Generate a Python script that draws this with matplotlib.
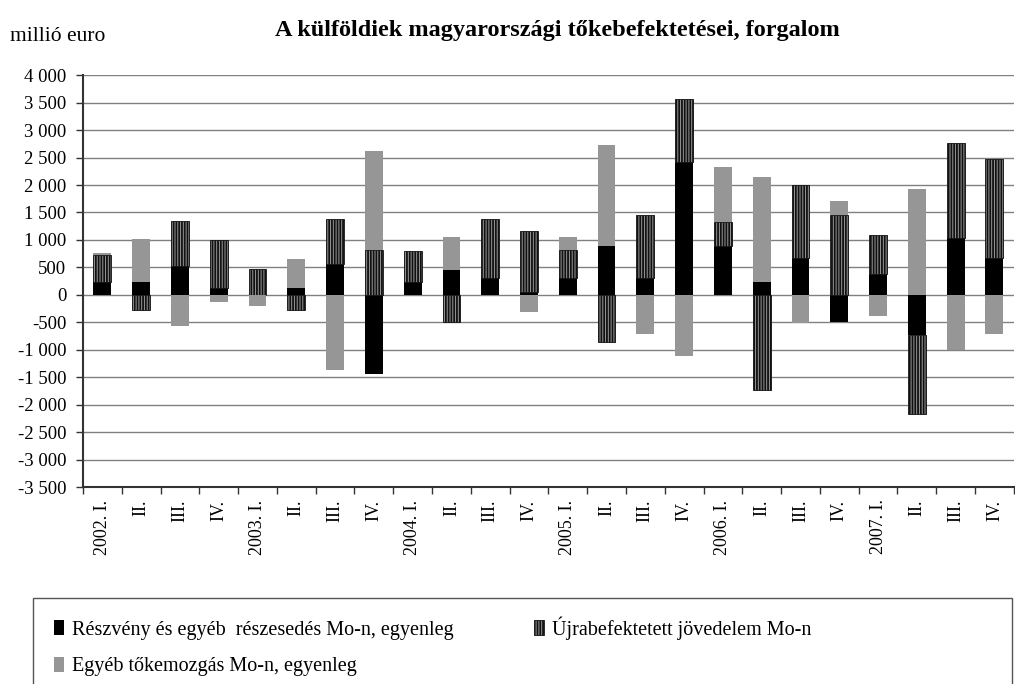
import numpy as np
import matplotlib.pyplot as plt
import matplotlib as mpl
from matplotlib.patches import Patch, Rectangle
from matplotlib.ticker import FuncFormatter

plt.rcParams["font.family"] = ["Liberation Serif", "DejaVu Serif"]
plt.rcParams["hatch.linewidth"] = 1.3

quarters = [
    "2002. I.", "II.", "III.", "IV.",
    "2003. I.", "II.", "III.", "IV.",
    "2004. I.", "II.", "III.", "IV.",
    "2005. I.", "II.", "III.", "IV.",
    "2006. I.", "II.", "III.", "IV.",
    "2007. I.", "II.", "III.", "IV.",
]
# Részvény és egyéb részesedés
equity = [235, 235, 525, 125, 0, 125, 560, -1440,
          235, 455, 310, 55, 310, 890, 310, 2420,
          890, 235, 675, -490, 380, -730, 1040, 675]
# Újrabefektetett jövedelem
reinvested = [490, -270, 820, 880, 470, -270, 820, 820,
              565, -490, 1075, 1110, 510, -855, 1145, 1150,
              440, -1730, 1330, 1460, 710, -1440, 1730, 1800]
# Egyéb tőkemozgás
other = [35, 780, -565, -125, -200, 530, -1365, 1800,
         0, 600, 0, -310, 235, 1840, -710, -1110,
         1000, 1910, -520, 255, -380, 1930, -1000, -710]

labels = [
    "Részvény és egyéb  részesedés Mo-n, egyenleg",
    "Újrabefektetett jövedelem Mo-n",
    "Egyéb tőkemozgás Mo-n, egyenleg",
]


def main():
    fig = plt.figure(figsize=(10.15, 6.84), dpi=100)
    ax = fig.add_axes([0.0818, 0.288, 0.917, 0.602])

    x = np.arange(len(quarters))
    width = 0.46
    pos_base = np.zeros(len(x))
    neg_base = np.zeros(len(x))
    styles = [
        dict(color="black", edgecolor="black", linewidth=0),
        dict(color="#999999", edgecolor="#111111", hatch="||||||", linewidth=0.6),
        dict(color="#969696", edgecolor="#969696", linewidth=0),
    ]
    for vals, st in zip([equity, reinvested, other], styles):
        v = np.array(vals, dtype=float)
        bottom = np.where(v >= 0, pos_base, neg_base)
        ax.bar(x, v, width, bottom=bottom, zorder=3, **st)
        pos_base = pos_base + np.where(v > 0, v, 0)
        neg_base = neg_base + np.where(v < 0, v, 0)

    ax.set_ylim(-3500, 4000)
    ax.set_xlim(-0.5, len(x) - 0.5)
    ax.set_yticks(np.arange(-3500, 4001, 500))
    ax.yaxis.set_major_formatter(
        FuncFormatter(lambda v, p: f"{v:,.0f}".replace(",", " "))
    )
    ax.grid(axis="y", color="#808080", linewidth=1.0, zorder=0)
    ax.set_axisbelow(True)

    ax.set_xticks(np.arange(-0.5, len(x), 1.0))
    ax.set_xticklabels([])
    ax.set_xticks(x, minor=True)
    ax.set_xticklabels(quarters, minor=True, rotation=90, fontsize=13)
    ax.tick_params(axis="x", which="major", length=5, width=1, color="#333333")
    ax.tick_params(axis="x", which="minor", length=0, pad=9)
    ax.tick_params(axis="y", length=5, width=1, color="#333333",
                   labelsize=13.5, pad=7)

    for s in ["top", "right"]:
        ax.spines[s].set_visible(False)
    for s in ["left", "bottom"]:
        ax.spines[s].set_color("#333333")
        ax.spines[s].set_linewidth(1.5)

    fig.text(0.010, 0.947, "millió euro", fontsize=15.5, va="center", ha="left")
    fig.text(0.549, 0.955, "A külföldiek magyarországi tőkebefektetései, forgalom",
             fontsize=17.5, fontweight="bold", va="center", ha="center")

    # legend box running off the bottom edge
    fig.patches.append(Rectangle((0.0325, -0.05), 0.965, 0.176,
                                 transform=fig.transFigure, facecolor="white",
                                 edgecolor="#555555", linewidth=1))
    handles = [
        Patch(facecolor="black", edgecolor="black", linewidth=0),
        Patch(facecolor="#969696", edgecolor="#969696", linewidth=0),
        Patch(facecolor="#999999", edgecolor="#111111", hatch="||||||", linewidth=0.6),
    ]
    fig.legend(handles, [labels[0], labels[2], labels[1]], ncol=2,
               loc="upper left", bbox_to_anchor=(0.045, 0.111),
               frameon=False, fontsize=14.5, handlelength=0.5,
               handleheight=0.8, handletextpad=0.4, columnspacing=4.0,
               labelspacing=0.85, borderaxespad=0)
    return fig, ax


if __name__ == "__main__":
    fig, _ = main()
    fig.savefig("out.png", dpi=100)
